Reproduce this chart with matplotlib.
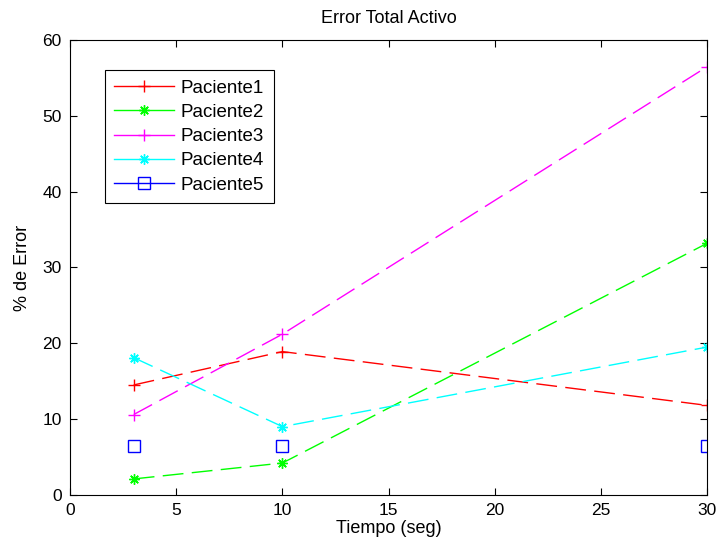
import matplotlib
matplotlib.use('Agg')
import matplotlib.pyplot as plt
from matplotlib.lines import Line2D

tiempo = [3, 10, 30]
paciente1 = [14.5, 18.9, 11.8]
paciente2 = [2.1, 4.2, 33.2]
paciente3 = [10.6, 21.2, 56.5]
paciente4 = [18.1, 9.0, 19.5]
paciente5 = [6.5, 6.5, 6.5]

labels = ['Paciente1', 'Paciente2', 'Paciente3', 'Paciente4', 'Paciente5']
colors = ['#ff0000', '#00ff00', '#ff00ff', '#00ffff', '#0000ff']
# MATLAB style asterisk = 8-armed line marker
asterisk = (8, 2, 0)
markers = ['+', asterisk, '+', asterisk, 's']
msizes = [9, 7.5, 9, 7.5, 8]

plt.rcParams['font.family'] = ['Liberation Sans', 'DejaVu Sans']

fig = plt.figure(figsize=(7.18, 5.42), dpi=100)
ax = fig.add_axes([0.0975, 0.087, 0.8875, 0.839])

series = [paciente1, paciente2, paciente3, paciente4]
for vals, c, m, ms in zip(series, colors[:4], markers[:4], msizes[:4]):
    ax.plot(tiempo, vals, color=c, linestyle=(0, (15, 6)), linewidth=1,
            marker=m, markersize=ms, markeredgewidth=1)
ax.plot(tiempo, paciente5, color=colors[4], linestyle='none', marker='s',
        markersize=msizes[4], markerfacecolor='none', markeredgewidth=1)

handles = []
for c, m, ms in zip(colors, markers, msizes):
    if m == 's':
        handles.append(Line2D([], [], color=c, marker=m, markersize=ms,
                              markerfacecolor='none', linewidth=1))
    else:
        handles.append(Line2D([], [], color=c, marker=m, markersize=ms, linewidth=1))
leg = ax.legend(handles, labels, loc='upper left', bbox_to_anchor=(0.055, 0.934),
                fontsize=13.5, fancybox=False, edgecolor='black', framealpha=1,
                handlelength=3.2, handletextpad=0.35, labelspacing=0.38,
                borderpad=0.5, borderaxespad=0)
leg.get_frame().set_linewidth(0.8)

ax.set_xlim(0, 30)
ax.set_ylim(0, 60)
ax.set_xticks([0, 5, 10, 15, 20, 25, 30])
ax.set_yticks([0, 10, 20, 30, 40, 50, 60])
ax.tick_params(direction='in', top=True, right=True, length=5, labelsize=12.5,
               pad=6)
for s in ax.spines.values():
    s.set_linewidth(0.8)
ax.set_title('Error Total Activo', fontsize=13, pad=12)
ax.set_xlabel('Tiempo (seg)', fontsize=13, labelpad=1)
ax.set_ylabel('% de Error', fontsize=13, labelpad=8)

fig.savefig('out.png', dpi=100)
